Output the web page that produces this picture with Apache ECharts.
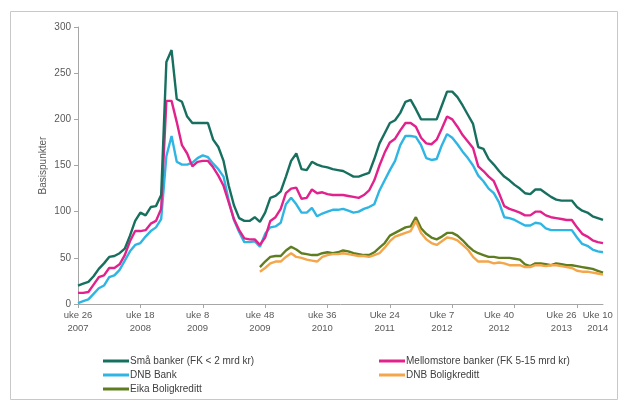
<!DOCTYPE html>
<html>
<head>
<meta charset="utf-8">
<script src="https://cdn.jsdelivr.net/npm/echarts@6/dist/echarts.min.js"></script>
<style>
html,body{margin:0;padding:0;background:#fff;}
#c{width:623px;height:400px;}
</style>
</head>
<body>
<div id="c"></div>
<script>
// Observation index (categories), tick labels and series values
const categories = Array.from({length: 102}, (_, i) => String(i));
const tickLabelIndex = [0, 12, 23, 35, 47, 59, 70, 81, 93, 100];
const tickLabels = ['uke 26\n2007','uke 18\n2008','uke 8\n2009','uke 48\n2009','uke 36\n2010','Uke 24\n2011','Uke 7\n2012','Uke 40\n2012','Uke 26\n2013','Uke 10\n2014'];

const smaBanker = [20,22,24,30,38,44,51,52,55,60,74,90,99,96,105,106,118,262,275,222,219,203,196,196,196,196,178,170,155,128,107,93,90,90,94,89,
  99,115,117,122,138,155,163,146,145,154,151,149,148,146,145,144,141,138,138,140,142,157,174,185,196,199,207,219,221,211,200,200,200,200,
  215,230,230,224,215,205,195,170,168,157,151,144,138,134,129,125,120,119,124,124,120,116,113,112,112,112,105,101,99,95,93,91];
const mellomstore = [12,12,13,21,29,31,39,39,43,53,68,79,79,80,87,90,103,220,220,197,172,163,149,154,155,155,148,139,128,110,92,80,71,70,70,64,
  72,90,94,103,120,125,126,114,115,124,120,121,119,118,118,118,117,116,115,118,123,134,150,164,175,179,188,196,196,192,180,174,173,178,
  190,203,200,192,183,176,169,149,144,138,133,120,106,103,101,99,96,96,100,100,96,94,93,92,91,91,83,76,73,69,67,66];
const dnbBank = [1,3,5,11,17,20,29,31,37,47,57,64,66,73,79,83,92,160,182,154,151,151,153,158,161,159,152,146,138,112,91,78,67,67,68,62,
  76,83,84,88,108,115,108,99,99,104,95,98,100,102,102,103,101,99,100,103,105,108,123,134,145,155,172,182,182,181,172,158,156,157,
  172,184,180,173,165,158,150,139,133,125,120,110,94,93,91,88,85,85,88,87,82,80,80,80,80,80,72,65,63,59,57,56];
const dnbBoligkreditt = [null,null,null,null,null,null,null,null,null,null,null,null,null,null,null,null,null,null,null,null,null,null,null,null,null,null,null,null,null,null,null,null,null,null,null,35,
  39,44,46,46,51,55,51,50,48,47,46,51,53,54,54,55,54,53,52,52,51,53,55,61,68,73,75,77,79,90,77,70,66,64,
  68,72,71,69,64,59,51,46,46,46,44,45,44,42,42,42,40,40,42,42,41,42,42,41,40,39,36,35,35,34,33,32];
const eikaBoligkreditt = [null,null,null,null,null,null,null,null,null,null,null,null,null,null,null,null,null,null,null,null,null,null,null,null,null,null,null,null,null,null,null,null,null,null,null,40,
  46,51,52,52,58,62,59,55,54,53,53,55,56,55,56,58,57,55,54,53,53,56,61,66,74,77,80,83,84,94,82,76,72,70,
  73,77,77,74,69,63,58,55,53,51,51,50,50,50,49,48,43,41,44,44,43,42,44,43,42,42,41,40,39,38,36,34];

const names = ['Små banker (FK < 2 mrd kr)','Mellomstore banker (FK 5-15 mrd kr)','DNB Bank','DNB Boligkreditt','Eika Boligkreditt'];
const colors = ['#17705F','#E2228C','#2FB5E3','#F4A64A','#5E7D1F'];
const values = [smaBanker, mellomstore, dnbBank, dnbBoligkreditt, eikaBoligkreditt];

const chart = echarts.init(document.getElementById('c'), null, {renderer: 'canvas'});
const txt = '#595959';
const axisCol = '#A6A6A6';
const font = 'Liberation Sans, Arial, sans-serif';

const option = {
  animation: false,
  backgroundColor: '#fff',
  textStyle: {fontFamily: font},
  graphic: [{
    type: 'rect', shape: {x: 10.5, y: 11.5, width: 607, height: 388},
    style: {fill: 'none', stroke: '#C8C8C8', lineWidth: 1}, z: -1
  }],
  grid: {left: 78, right: 20, top: 27, bottom: 96, containLabel: false},
  legend: [{
    left: 98, top: 351, orient: 'vertical', itemGap: 4,
    icon: 'rect', itemWidth: 26, itemHeight: 3,
    textStyle: {color: '#404040', fontSize: 10, fontFamily: font, padding: [0,0,0,-4]},
    data: [names[0], names[2], names[4]]
  },{
    left: 374, top: 351, orient: 'vertical', itemGap: 4,
    icon: 'rect', itemWidth: 26, itemHeight: 3,
    textStyle: {color: '#404040', fontSize: 10, fontFamily: font, padding: [0,0,0,-4]},
    data: [names[1], names[3]]
  }],
  xAxis: {
    type: 'category', data: categories, boundaryGap: false,
    axisLine: {lineStyle: {color: axisCol, width: 1}},
    axisTick: {show: true, length: 4, interval: (i) => i % 12 === 0, lineStyle: {color: axisCol}},
    axisLabel: {
      interval: (i) => tickLabelIndex.indexOf(i) >= 0,
      formatter: (v, i) => { const k = tickLabelIndex.indexOf(i); return k >= 0 ? tickLabels[k] : ''; },
      color: txt, fontSize: 9.5, lineHeight: 13, margin: 5, fontFamily: font
    },
    splitLine: {show: false}
  },
  yAxis: {
    type: 'value', min: 0, max: 300, interval: 50,
    name: 'Basispunkter', nameLocation: 'middle', nameGap: 30, nameRotate: 90,
    nameMoveOverlap: false,
    nameTextStyle: {color: txt, fontSize: 10, fontFamily: font},
    axisLine: {show: true, lineStyle: {color: axisCol, width: 1}},
    axisTick: {show: true, length: 4, lineStyle: {color: axisCol}},
    axisLabel: {color: txt, fontSize: 10, margin: 7, fontFamily: font},
    splitLine: {show: false}
  },
  series: names.map((n, k) => ({
    name: n, type: 'line', data: values[k], showSymbol: false, symbol: 'none',
    connectNulls: false,
    lineStyle: {color: colors[k], width: 2.4}, itemStyle: {color: colors[k]},
    z: 10 - k
  }))
};
chart.setOption(option);
</script>
</body>
</html>
